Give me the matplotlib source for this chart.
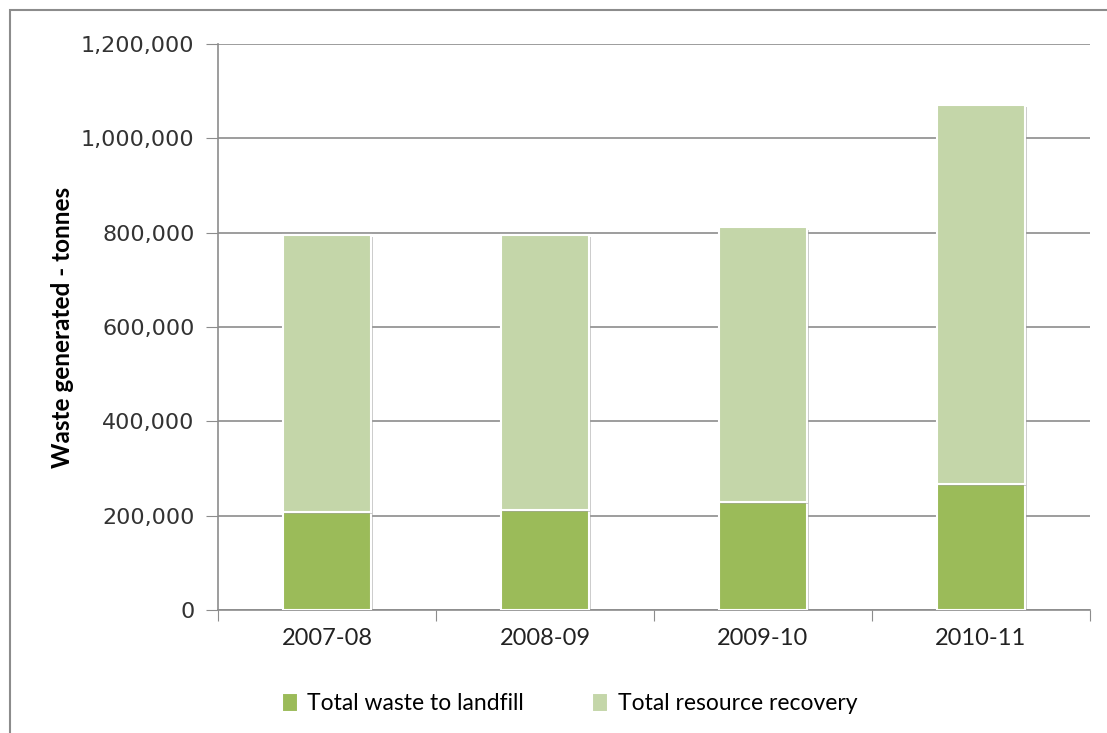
import matplotlib
matplotlib.use("Agg")
import matplotlib.pyplot as plt
import matplotlib.patheffects as pe
from matplotlib.patches import Rectangle
from matplotlib.ticker import FuncFormatter
import numpy as np

# waste generated per financial year, tonnes
years = ["2007-08", "2008-09", "2009-10", "2010-11"]
landfill = [208000, 213000, 230000, 267000]
total = [796000, 796000, 811000, 1070000]
recovery = [t - l for t, l in zip(total, landfill)]

dark_green = "#9BBB59"
light_green = "#C4D6A9"
grid_col = "#8C8C8C"
lato = ["Lato", "DejaVu Sans"]

fig = plt.figure(figsize=(11.07, 7.33), dpi=100)
ax = fig.add_axes([218 / 1107, 1 - 610 / 733, (1090 - 218) / 1107, (610 - 44) / 733])

x = np.arange(len(years))
shadow = [pe.SimplePatchShadow(offset=(1.5, -1.5), shadow_rgbFace="#999999", alpha=0.5), pe.Normal()]
b1 = ax.bar(x, landfill, width=0.4, color=dark_green, edgecolor="white", linewidth=1.5,
            label="Total waste to landfill", zorder=3)
b2 = ax.bar(x, recovery, bottom=landfill, width=0.4, color=light_green, edgecolor="white",
            linewidth=1.5, label="Total resource recovery", zorder=3)
for p in list(b1) + list(b2):
    p.set_path_effects(shadow)

ax.set_xlim(-0.5, 3.5)
ax.set_ylim(0, 1200000)
ax.set_yticks(np.arange(0, 1200001, 200000))
ax.yaxis.set_major_formatter(FuncFormatter(lambda v, _: f"{int(v):,}"))
ax.grid(axis="y", color=grid_col, linewidth=1.2, zorder=0)

# category ticks sit between the bars
ax.set_xticks(np.arange(-0.5, 4.0, 1.0))
ax.set_xticklabels([])
ax.set_xticks(x, minor=True)
ax.set_xticklabels(years, minor=True, fontsize=17, family=lato, color="#222222")
ax.tick_params(axis="x", which="minor", length=0, pad=13)
ax.tick_params(axis="x", which="major", length=8, color=grid_col, direction="out")
ax.tick_params(axis="y", length=9, color=grid_col, labelsize=16, pad=8, labelcolor="#333333")

for s in ["top", "right"]:
    ax.spines[s].set_visible(False)
for s in ["left", "bottom"]:
    ax.spines[s].set_color(grid_col)
    ax.spines[s].set_linewidth(1.2)

ax.set_ylabel("Waste generated - tonnes", fontsize=17.5, fontweight="bold", family=lato,
              labelpad=5)

leg = ax.legend(loc="upper center", bbox_to_anchor=(0.403, -0.11), ncol=2, frameon=False,
                prop={"family": lato, "size": 16.5}, handlelength=0.7, handleheight=0.9,
                handletextpad=0.4, columnspacing=3.0)
for h in leg.legend_handles:
    h.set_path_effects([])

# chart area border
fig.patches.append(Rectangle((10 / 1107, -0.1), 1.2, 1 - 10 / 733 + 0.1,
                             transform=fig.transFigure, fill=False, edgecolor="#8C8C8C",
                             linewidth=1.5))

fig.savefig("out.png", dpi=100)
